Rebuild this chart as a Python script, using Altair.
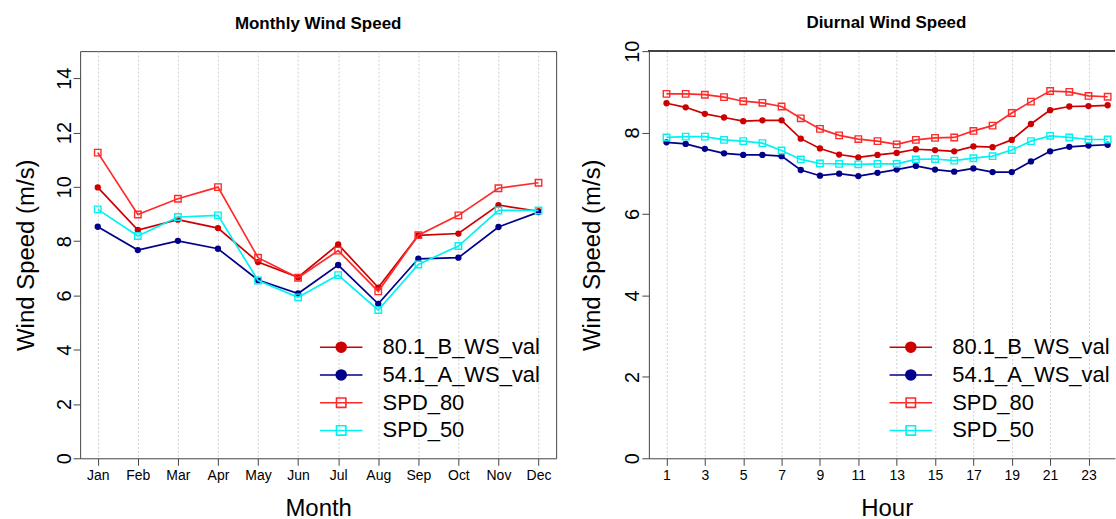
import altair as alt
import pandas as pd

FONT = "Liberation Sans"
AX = "#444444"

# ---------------- data ----------------
months = ["Jan", "Feb", "Mar", "Apr", "May", "Jun", "Jul", "Aug", "Sep", "Oct", "Nov", "Dec"]
month_ticks = list(range(1, 13))
hours = list(range(1, 25))
hour_ticks = list(range(1, 24, 2))

series_names = ["80.1_B_WS_val", "54.1_A_WS_val", "SPD_80", "SPD_50"]
series_colors = ["#cc0000", "#00008b", "#ff2a2a", "#00f2f2"]
series_fills = ["#cc0000", "#00008b", "transparent", "transparent"]
series_markers = ["circle", "circle", "square", "square"]

monthly_b80 = [9.98, 8.41, 8.79, 8.48, 7.23, 6.67, 7.88, 6.29, 8.21, 8.28, 9.33, 9.10]
monthly_a54 = [8.53, 7.67, 8.01, 7.72, 6.57, 6.07, 7.12, 5.69, 7.35, 7.39, 8.52, 9.07]
monthly_s80 = [11.26, 8.98, 9.56, 9.99, 7.39, 6.65, 7.65, 6.15, 8.22, 8.95, 9.95, 10.15]
monthly_s50 = [9.17, 8.19, 8.89, 8.95, 6.55, 5.93, 6.75, 5.46, 7.14, 7.82, 9.13, 9.13]

diurnal_b80 = [8.72, 8.62, 8.46, 8.37, 8.28, 8.30, 8.30, 7.85, 7.61, 7.46, 7.39, 7.45,
               7.50, 7.59, 7.57, 7.54, 7.66, 7.64, 7.82, 8.21, 8.55, 8.64, 8.65, 8.67]
diurnal_a54 = [7.76, 7.72, 7.60, 7.49, 7.45, 7.45, 7.42, 7.08, 6.94, 6.99, 6.93, 7.01,
               7.09, 7.18, 7.09, 7.04, 7.12, 7.03, 7.03, 7.29, 7.54, 7.65, 7.68, 7.70]
diurnal_s80 = [8.95, 8.95, 8.93, 8.87, 8.77, 8.73, 8.64, 8.35, 8.09, 7.93, 7.84, 7.79,
               7.71, 7.82, 7.87, 7.88, 8.04, 8.17, 8.48, 8.76, 9.02, 9.00, 8.90, 8.88]
diurnal_s50 = [7.88, 7.90, 7.90, 7.82, 7.79, 7.74, 7.56, 7.34, 7.24, 7.23, 7.22, 7.23,
               7.23, 7.34, 7.35, 7.31, 7.37, 7.42, 7.57, 7.79, 7.92, 7.88, 7.83, 7.83]

monthly = dict(zip(series_names, [monthly_b80, monthly_a54, monthly_s80, monthly_s50]))
diurnal = dict(zip(series_names, [diurnal_b80, diurnal_a54, diurnal_s80, diurnal_s50]))

# legend symbols: a line segment with a marker (path units scaled by sqrt(symbolSize)/2)
LEG_CIRCLE = "M-2.13,0H2.13M-0.5,0A0.5,0.5,0,1,1,0.5,0A0.5,0.5,0,1,1,-0.5,0Z"
LEG_SQUARE = "M-2.13,0H2.13M-0.47,-0.47H0.47V0.47H-0.47Z"
legend_shapes = [LEG_CIRCLE, LEG_CIRCLE, LEG_SQUARE, LEG_SQUARE]


def long_frame(xs, table):
    rows = []
    for name in series_names:
        for xv, yv in zip(xs, table[name]):
            rows.append({"x": xv, "value": yv, "series": name})
    return pd.DataFrame(rows)


legend_df = pd.DataFrame({"series": series_names,
                          "x": [float("nan")] * 4,
                          "value": [float("nan")] * 4})

HEIGHT = 408


def panel(df, xdomain, xticks, label_expr, xtitle, xtitle_x, ydomain, yticks,
          title, title_dx, title_offset, width, legend_x, ytitle_x, boxed):
    xscale = alt.Scale(domain=xdomain, nice=False, zero=False)
    yscale = alt.Scale(domain=ydomain, nice=False, zero=False)

    xkw = dict(values=xticks, grid=True, gridColor="#d0d0d0", gridDash=[2, 2], gridWidth=1,
               domain=not boxed, domainColor=AX, domainWidth=1,
               tickColor=AX, tickSize=7, tickWidth=1,
               labelFont=FONT, labelFontSize=14, labelColor="black", labelPadding=3,
               labelOverlap=False, labelFlush=False,
               title=xtitle, titleFont=FONT, titleFontSize=24, titleFontWeight="normal",
               titleColor="black", titleBaseline="alphabetic", titleAlign="center",
               titleX=xtitle_x, titleY=57)
    if label_expr:
        xkw["labelExpr"] = label_expr
    x_axis = alt.Axis(**xkw)

    y_axis = alt.Axis(values=yticks, grid=False, domain=not boxed, domainColor=AX, domainWidth=1,
                      tickColor=AX, tickSize=7, tickWidth=1,
                      labelAngle=270, labelAlign="center", labelBaseline="alphabetic",
                      labelPadding=3, labelFont=FONT, labelFontSize=20, labelColor="black",
                      labelOverlap=False, labelFlush=False,
                      title="Wind Speed (m/s)", titleFont=FONT, titleFontSize=24,
                      titleFontWeight="normal", titleColor="black", titleAngle=270,
                      titleAlign="center", titleBaseline="alphabetic",
                      titleX=ytitle_x, titleY=HEIGHT / 2)

    X = alt.X("x:Q", scale=xscale, axis=x_axis)
    Y = alt.Y("value:Q", scale=yscale, axis=y_axis)

    layers = []
    if not boxed:
        # top frame line of the plot region (the right side is cut off)
        layers.append(
            alt.Chart(df).mark_rule(color=AX, strokeWidth=1).encode(
                x=alt.X(datum=xdomain[0], scale=xscale, axis=x_axis),
                x2=alt.X2(datum=xdomain[1]),
                y=alt.Y(datum=ydomain[1], scale=yscale, axis=y_axis),
            )
        )

    base = alt.Chart(df)
    for name, col, marker in zip(series_names, series_colors, series_markers):
        sub = base.transform_filter(alt.datum.series == name)
        layers.append(sub.mark_line(color=col, strokeWidth=1.7).encode(x=X, y=Y))
        if marker == "circle":
            layers.append(sub.mark_point(shape="circle", filled=True, size=40, opacity=1,
                                         color=col).encode(x=X, y=Y))
        else:
            layers.append(sub.mark_point(shape="square", filled=False, size=42, opacity=1,
                                         strokeWidth=1.4, color=col).encode(x=X, y=Y))

    leg = alt.Legend(orient="none", legendX=legend_x, legendY=285.7, title=None,
                     symbolSize=400, symbolStrokeWidth=1.6, symbolOpacity=1,
                     labelFont=FONT, labelFontSize=22, labelColor="black",
                     labelOffset=30.5, labelLimit=400, rowPadding=5.8, padding=0,
                     direction="vertical")

    layers.append(
        alt.Chart(legend_df).mark_point(filled=True, opacity=1, strokeWidth=1.6).encode(
            x=X, y=Y,
            shape=alt.Shape("series:N", scale=alt.Scale(domain=series_names, range=legend_shapes), legend=leg),
            stroke=alt.Stroke("series:N", scale=alt.Scale(domain=series_names, range=series_colors), legend=leg),
            fill=alt.Fill("series:N", scale=alt.Scale(domain=series_names, range=series_fills), legend=leg),
        )
    )

    return alt.layer(*layers).properties(
        width=width,
        height=HEIGHT,
        title=alt.TitleParams(text=title, font=FONT, fontSize=17, fontWeight="bold",
                              color="black", anchor="middle", frame="group",
                              baseline="alphabetic", offset=title_offset, dx=title_dx),
        view=alt.ViewBackground(stroke=AX if boxed else "transparent", strokeWidth=1),
    )


month_expr = "[" + ",".join("'" + m + "'" for m in months) + "][datum.value - 1]"

left = panel(long_frame(month_ticks, monthly),
             xdomain=[0.56, 12.44], xticks=month_ticks, label_expr=month_expr,
             xtitle="Month", xtitle_x=238.5,
             ydomain=[0, 15], yticks=list(range(0, 15, 2)),
             title="Monthly Wind Speed", title_dx=0, title_offset=5, width=477,
             legend_x=250.6, ytitle_x=-47, boxed=True)

RIGHT_W = 467
right = panel(long_frame(hours, diurnal),
              xdomain=[0.08, 0.08 + RIGHT_W / 19.22], xticks=hour_ticks, label_expr=None,
              xtitle="Hour", xtitle_x=238.3,
              ydomain=[0, 10], yticks=list(range(0, 11, 2)),
              title="Diurnal Wind Speed", title_dx=4.5, title_offset=-5.4, width=RIGHT_W,
              legend_x=251.5, ytitle_x=-49, boxed=False)

chart = alt.hconcat(left, right, spacing=22.9).resolve_scale(
    shape="independent", stroke="independent", fill="independent"
).resolve_legend(
    shape="independent", stroke="independent", fill="independent"
).properties(
    padding={"left": 13.3, "top": 12.7, "right": 0, "bottom": 0},
    background="white",
)

chart.save("out.html", embed_options={"renderer": "svg", "actions": False})
